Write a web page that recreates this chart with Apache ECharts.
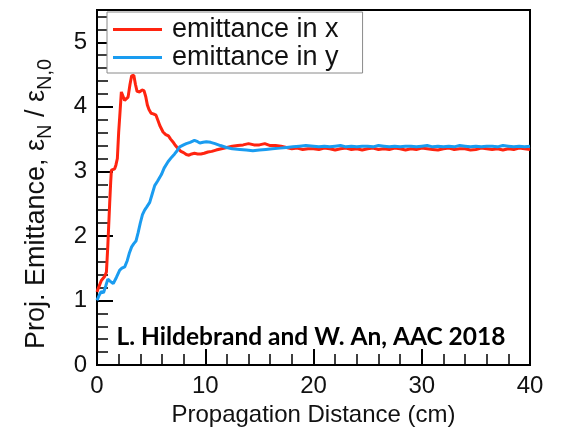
<!DOCTYPE html>
<html>
<head>
<meta charset="utf-8">
<script src="https://cdn.jsdelivr.net/npm/echarts@6/dist/echarts.min.js"></script>
<style>
  html, body { margin: 0; padding: 0; background: #fff; }
  #chart { width: 564px; height: 432px; }
</style>
</head>
<body>
<div id="chart"></div>
<script>
// Projected emittance growth along the plasma, normalised to the initial value
const seriesNames = ['emittance in x', 'emittance in y'];

const xDist = [
  0.0, 0.1, 0.4, 0.7, 0.87, 1.0, 1.17, 1.27, 1.33, 1.63, 1.75, 1.88, 2.0, 2.1, 2.25, 2.4, 2.55, 2.7, 2.87,
  3.05, 3.2, 3.4, 3.55, 3.7, 3.94, 4.15, 4.34, 4.5, 4.65, 4.8, 5.0, 5.2, 5.45, 5.65, 5.8, 6.1, 6.35, 6.6,
  6.8, 7.0, 7.25, 7.5, 7.75, 8.0, 8.25, 8.5, 8.75, 9.0, 9.3, 9.6, 9.9, 10.25, 10.6, 11.0, 11.5, 12.0,
  12.5, 13.0, 13.5, 14.0, 14.5, 15.0, 15.5, 16.0, 16.5, 17.0, 17.5, 18.0, 18.5, 19.0, 19.5, 20.0,
  20.5, 21.0, 21.5, 22.0, 22.5, 23.0, 23.5, 24.0, 24.5, 25.0, 25.5, 26.0, 26.5, 27.0, 27.5, 28.0,
  28.5, 29.0, 29.5, 30.0, 30.5, 31.0, 31.5, 32.0, 32.5, 33.0, 33.5, 34.0, 34.5, 35.0, 35.5, 36.0,
  36.5, 37.0, 37.5, 38.0, 38.5, 39.0, 39.5, 40.0
];
const xEmit = [
  1.13, 1.18, 1.31, 1.37, 1.44, 1.85, 2.50, 2.85, 3.02, 3.04, 3.10, 3.20, 3.60, 3.85, 4.23, 4.24, 4.10, 4.07, 4.15,
  4.35, 4.48, 4.49, 4.35, 4.24, 4.23, 4.26, 4.25, 4.16, 4.03, 3.96, 3.90, 3.89, 3.87, 3.78, 3.71, 3.61, 3.57, 3.55,
  3.50, 3.46, 3.40, 3.35, 3.31, 3.29, 3.26, 3.25, 3.27, 3.28, 3.27, 3.27, 3.28, 3.30, 3.31, 3.33, 3.35, 3.37,
  3.39, 3.40, 3.41, 3.43, 3.41, 3.41, 3.43, 3.40, 3.40, 3.39, 3.37, 3.35, 3.36, 3.34, 3.35, 3.35,
  3.34, 3.36, 3.35, 3.33, 3.35, 3.36, 3.34, 3.35, 3.33, 3.35, 3.36, 3.34, 3.35, 3.34, 3.36, 3.35,
  3.33, 3.35, 3.34, 3.36, 3.35, 3.34, 3.33, 3.35, 3.36, 3.34, 3.35, 3.35, 3.33, 3.34, 3.36, 3.35,
  3.34, 3.35, 3.33, 3.35, 3.34, 3.36, 3.35, 3.34
];

const yDist = [
  0.0, 0.2, 0.4, 0.6, 0.8, 1.0, 1.2, 1.5, 1.8, 2.1, 2.3, 2.56, 2.8, 3.0, 3.2, 3.4, 3.6, 3.8, 4.0, 4.2,
  4.4, 4.6, 4.87, 5.1, 5.33, 5.6, 5.95, 6.2, 6.56, 6.9, 7.17, 7.4, 7.64, 8.0, 8.25, 8.6, 9.0, 9.3, 9.5,
  9.8, 10.1, 10.5, 10.9, 11.4, 11.95, 12.5, 13.2, 13.8, 14.4, 15.0, 15.6, 16.2, 16.9, 17.5, 18.1, 18.7,
  19.3, 20.0, 20.5, 21.0, 21.5, 22.0, 22.5, 23.0, 23.5, 24.0, 24.5, 25.0, 25.5, 26.0, 26.5, 27.0,
  27.5, 28.0, 28.5, 29.0, 29.5, 30.0, 30.5, 31.0, 31.5, 32.0, 32.5, 33.0, 33.5, 34.0, 34.5, 35.0,
  35.5, 36.0, 36.5, 37.0, 37.5, 38.0, 38.5, 39.0, 39.5, 40.0
];
const yEmit = [
  1.00, 1.08, 1.14, 1.12, 1.22, 1.33, 1.30, 1.26, 1.36, 1.47, 1.50, 1.52, 1.62, 1.74, 1.83, 1.88, 1.92, 2.05, 2.20, 2.33,
  2.40, 2.45, 2.52, 2.65, 2.78, 2.85, 2.95, 3.05, 3.15, 3.22, 3.27, 3.32, 3.38, 3.41, 3.43, 3.45, 3.48, 3.46, 3.44,
  3.45, 3.46, 3.45, 3.43, 3.40, 3.37, 3.35, 3.34, 3.33, 3.32, 3.33, 3.34, 3.35, 3.36, 3.37, 3.38, 3.39,
  3.40, 3.39, 3.38, 3.39, 3.38, 3.39, 3.40, 3.38, 3.39, 3.38, 3.39, 3.39, 3.38, 3.40, 3.39, 3.38,
  3.39, 3.38, 3.39, 3.39, 3.38, 3.39, 3.40, 3.38, 3.39, 3.38, 3.39, 3.38, 3.40, 3.39, 3.38, 3.39,
  3.38, 3.39, 3.39, 3.38, 3.40, 3.39, 3.38, 3.39, 3.38, 3.39
];

const xTicks = { min: 0, max: 40, interval: 10 };
const yTicks = { min: 0, max: 5.5, interval: 1 };

const colors = ['#ff2410', '#1a9cf0'];
const font = '"Liberation Sans", Arial, sans-serif';

const pairs = (xs, ys) => xs.map((x, i) => [x, ys[i]]);

const chart = echarts.init(document.getElementById('chart'));

// Boxed axes with inward major and minor ticks
function axisStyle(extra) {
  return Object.assign({
    type: 'value',
    axisLine: { show: true, lineStyle: { color: '#000', width: 2 } },
    axisTick: { show: true, inside: true, length: 16, lineStyle: { color: '#000', width: 2 } },
    minorTick: { show: true, splitNumber: 5, length: 11, lineStyle: { color: '#000', width: 1.5 } },
    splitLine: { show: false }
  }, extra);
}

chart.setOption({
  animation: false,
  grid: { left: 97, right: 34, top: 10, bottom: 65, show: true, borderColor: '#000', borderWidth: 2 },
  legend: {
    data: seriesNames,
    left: 107, top: 12,
    orient: 'vertical',
    icon: 'rect',
    itemWidth: 49, itemHeight: 3, itemGap: 1,
    padding: [4, 24, 2, 6],
    borderColor: '#8a8a8a', borderWidth: 1, backgroundColor: '#fff',
    textStyle: { color: '#111', fontSize: 27, fontFamily: font, lineHeight: 27, padding: [0, 0, 0, 5] }
  },
  xAxis: axisStyle({
    min: xTicks.min, max: xTicks.max, interval: xTicks.interval,
    name: 'Propagation Distance (cm)',
    nameLocation: 'middle', nameGap: 38,
    nameTextStyle: { color: '#111', fontSize: 24, fontFamily: font },
    axisLabel: { color: '#111', fontSize: 24, fontFamily: font, margin: 9 }
  }),
  yAxis: axisStyle({
    min: yTicks.min, max: yTicks.max, interval: yTicks.interval,
    axisLabel: { color: '#111', fontSize: 24, fontFamily: font, margin: 10, showMaxLabel: false }
  }),
  graphic: [
    {
      type: 'text',
      x: 38, y: 204,
      rotation: Math.PI / 2,
      style: {
        text: '{m|Proj. Emittance, ε}{s|N}{m| / ε}{s|N,0}',
        align: 'center', verticalAlign: 'middle',
        rich: {
          m: { fontSize: 27, fontFamily: font, fill: '#111', lineHeight: 29, verticalAlign: 'top' },
          s: { fontSize: 20, fontFamily: font, fill: '#111', lineHeight: 20, padding: [12, 0, 0, 0], verticalAlign: 'top' }
        }
      }
    },
    {
      type: 'text',
      x: 311, y: 337,
      style: {
        text: 'L. Hildebrand and W. An, AAC 2018',
        align: 'center', verticalAlign: 'middle',
        fontSize: 24.5, fontWeight: 'bold', fontFamily: 'Lato, "Open Sans", sans-serif',
        fill: '#000'
      }
    }
  ],
  series: [
    {
      name: seriesNames[0], type: 'line', showSymbol: false,
      lineStyle: { width: 3, color: colors[0] },
      itemStyle: { color: colors[0] },
      data: pairs(xDist, xEmit)
    },
    {
      name: seriesNames[1], type: 'line', showSymbol: false,
      lineStyle: { width: 3, color: colors[1] },
      itemStyle: { color: colors[1] },
      data: pairs(yDist, yEmit)
    }
  ]
});
</script>
</body>
</html>
